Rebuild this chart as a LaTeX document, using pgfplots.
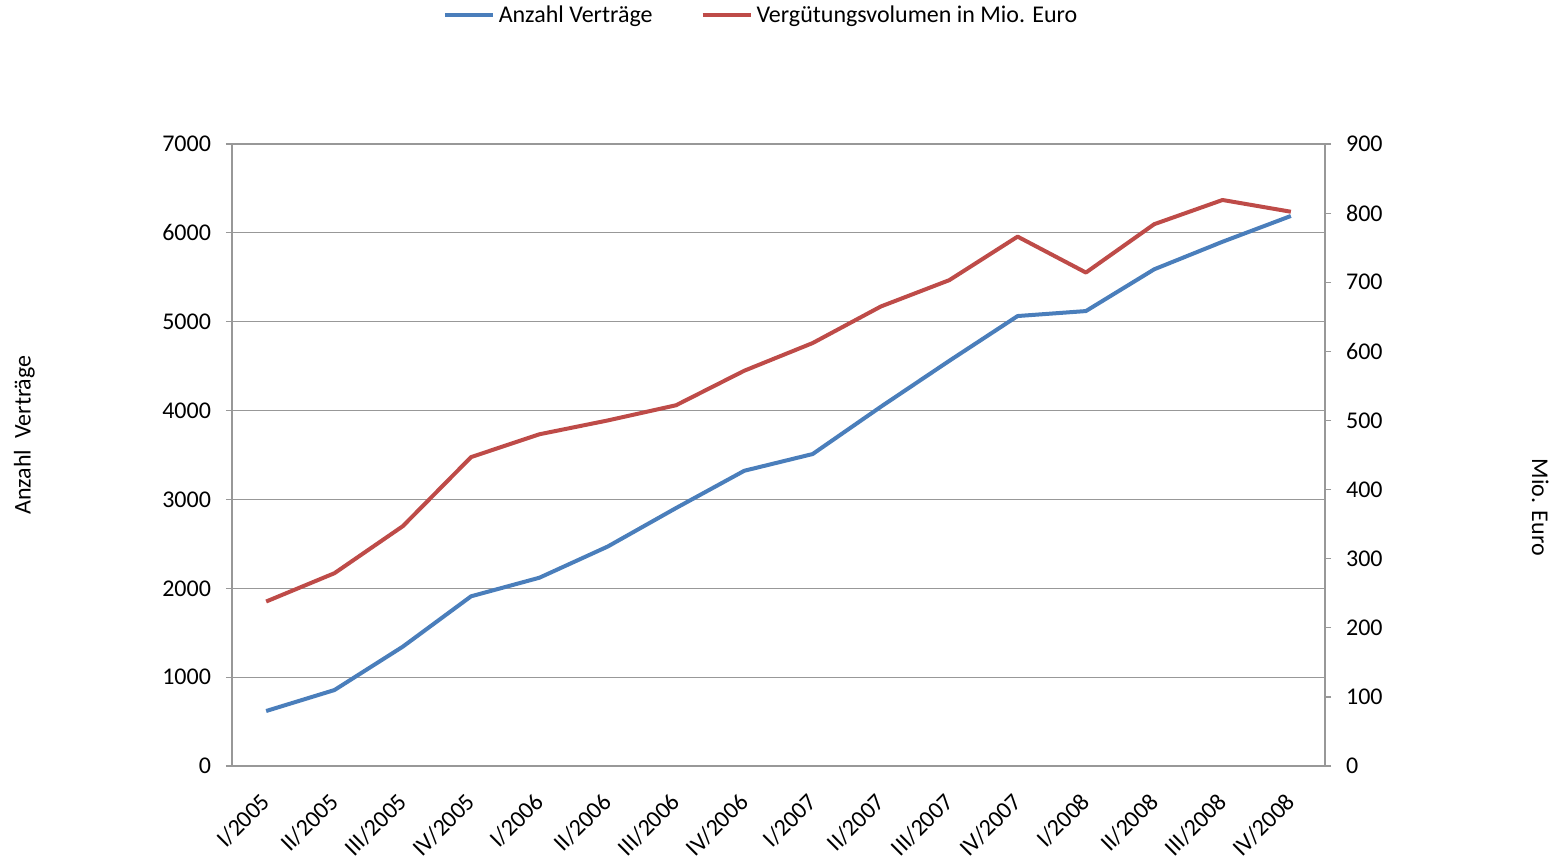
\documentclass[border=0pt]{standalone}
\usepackage{pgfplots}
\pgfplotsset{compat=1.18}
\usepackage{fontspec}
\setmainfont{Carlito}
\definecolor{bl}{HTML}{4A7EBB}
\definecolor{rd}{HTML}{BE4B48}
\definecolor{gr}{HTML}{989898}
\begin{document}
\begin{tikzpicture}
\path[use as bounding box] (-116pt,-49pt) rectangle (659pt,383pt);
\pgfplotsset{
  every axis/.append style={
    scale only axis, width=546.5pt, height=311pt,
    at={(0,0)}, anchor=south west,
    xmin=-0.5, xmax=15.5,
    font=\fontsize{12}{14}\selectfont,
    /pgf/number format/assume math mode=true,
    /pgf/number format/set thousands separator={},
    tick style={gr, line width=0.6pt},
    tick align=outside,
  }
}
\begin{axis}[
  axis line style={gr, line width=0.6pt},
  ymin=0, ymax=7000, ytick={0,1000,...,7000},
  ymajorgrids, grid style={gr, line width=0.6pt},
  major tick length=3pt,
  xtick={0,...,15},
  xticklabels={I/2005,II/2005,III/2005,IV/2005,I/2006,II/2006,III/2006,IV/2006,I/2007,II/2007,III/2007,IV/2007,I/2008,II/2008,III/2008,IV/2008},
  x tick style={draw=none},
  minor xtick={-0.5,0.5,...,15.5},
  minor tick length=4pt,
  xticklabel style={rotate=45, anchor=north east, inner sep=1pt, xshift=-8pt, yshift=-3.5pt},
  ytick pos=left,
  xtick pos=bottom,
  yticklabel style={xshift=-4pt},
  ylabel={Anzahl\ \ Verträge},
  ylabel style={at={(rel axis cs:-0.19,0.532)}, anchor=center},
  legend style={at={(0.485,1.207)}, anchor=center, draw=none, fill=none,
    legend columns=2, font=\fontsize{12}{14}\selectfont,
    /tikz/every even column/.append style={column sep=22pt}},
  legend image code/.code={\draw[#1, line width=2pt] (0pt,0pt) -- (24pt,0pt);},
]
\addplot[bl, line width=2pt, line join=round] coordinates {
(0,619) (1,855) (2,1343) (3,1910) (4,2119) (5,2470) (6,2903) (7,3323)
(8,3511) (9,4044) (10,4560) (11,5064) (12,5120) (13,5590) (14,5900) (15,6190)};
\addlegendentry{Anzahl Verträge}
\addlegendimage{rd, line width=2pt}
\addlegendentry{Vergütungsvolumen in Mio. Euro}
\end{axis}
\begin{axis}[
  axis x line=none,
  axis y line*=right,
  axis line style={gr, line width=0.6pt},
  ymin=0, ymax=900, ytick={0,100,...,900},
  major tick length=3pt,
  yticklabel style={xshift=4pt},
  ylabel={Mio. Euro},
  ylabel style={at={(rel axis cs:1.197,0.416)}, anchor=center, rotate=180},
]
\addplot[rd, line width=2pt, line join=round] coordinates {
(0,238) (1,279) (2,347) (3,447) (4,480) (5,500) (6,522) (7,572)
(8,612) (9,665) (10,703) (11,766) (12,714) (13,784) (14,819) (15,802)};
\end{axis}
\end{tikzpicture}
\end{document}
